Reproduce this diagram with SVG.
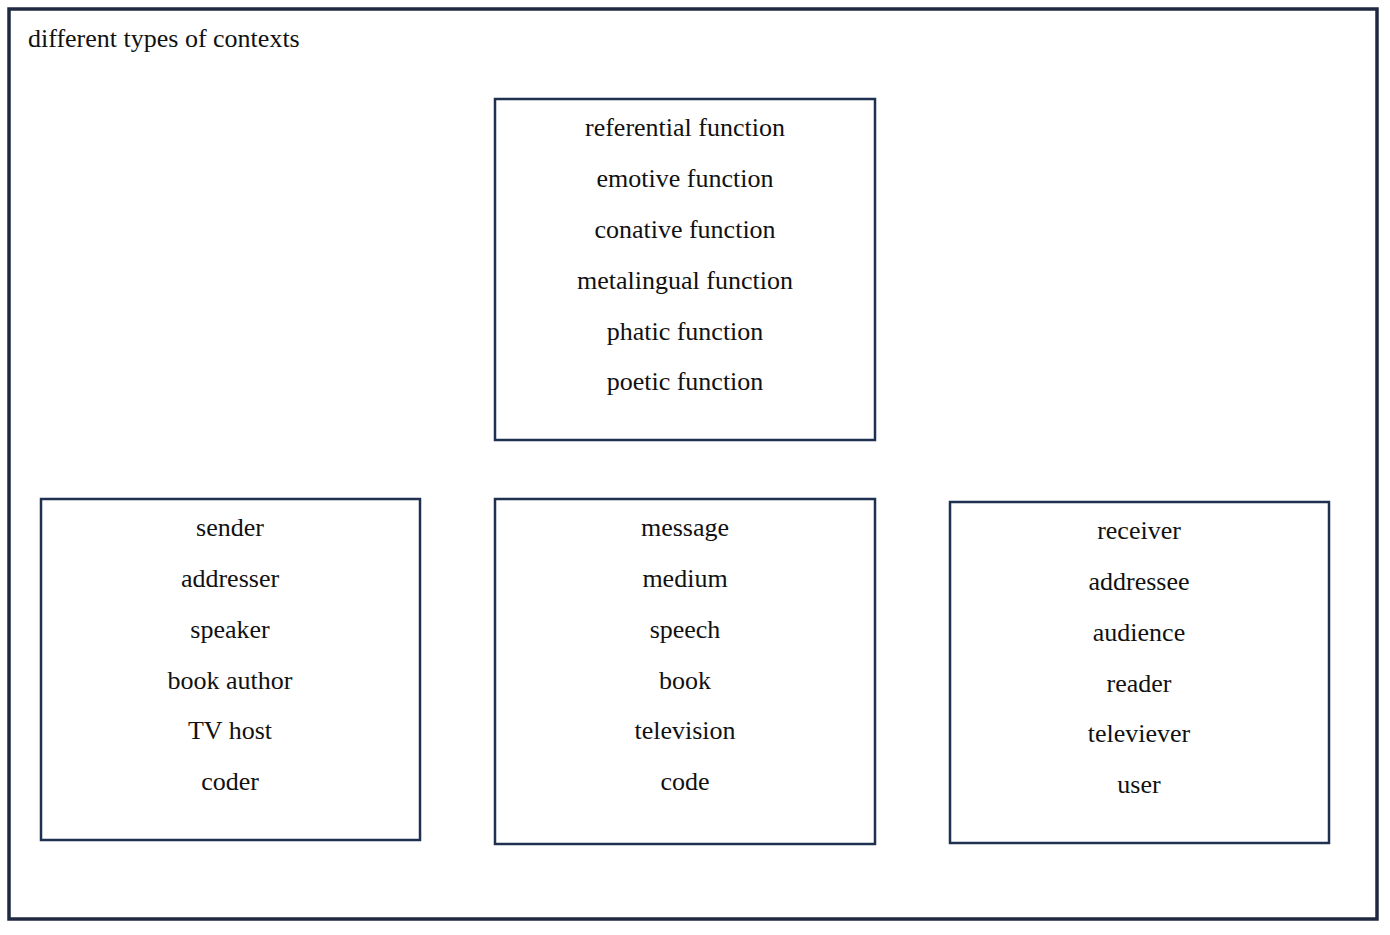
<svg xmlns="http://www.w3.org/2000/svg" width="1390" height="935" viewBox="0 0 1390 935">
<style>
.b{fill:#fff;stroke:#1f3050;stroke-width:2.5}
text{font-family:"Liberation Serif",serif;font-size:26px;fill:#111}
.c{text-anchor:middle}
</style>
<rect width="1390" height="935" fill="#fff"/>
<rect x="9" y="9" width="1368" height="910" fill="none" stroke="#1f2a40" stroke-width="3.5"/>
<text x="28" y="47">different types of contexts</text>
<g id="functions"><rect class="b" x="495" y="99" width="380" height="341"/>
<text class="c" x="685" y="136">referential function</text>
<text class="c" x="685" y="187">emotive function</text>
<text class="c" x="685" y="238">conative function</text>
<text class="c" x="685" y="289">metalingual function</text>
<text class="c" x="685" y="340">phatic function</text>
<text class="c" x="685" y="390">poetic function</text></g>
<g id="sender"><rect class="b" x="41" y="499" width="379" height="341"/>
<text class="c" x="230" y="536">sender</text>
<text class="c" x="230" y="587">addresser</text>
<text class="c" x="230" y="638">speaker</text>
<text class="c" x="230" y="689">book author</text>
<text class="c" x="230" y="739">TV host</text>
<text class="c" x="230" y="790">coder</text></g>
<g id="message"><rect class="b" x="495" y="499" width="380" height="345"/>
<text class="c" x="685" y="536">message</text>
<text class="c" x="685" y="587">medium</text>
<text class="c" x="685" y="638">speech</text>
<text class="c" x="685" y="689">book</text>
<text class="c" x="685" y="739">television</text>
<text class="c" x="685" y="790">code</text></g>
<g id="receiver"><rect class="b" x="950" y="502" width="379" height="341"/>
<text class="c" x="1139" y="539">receiver</text>
<text class="c" x="1139" y="590">addressee</text>
<text class="c" x="1139" y="641">audience</text>
<text class="c" x="1139" y="692">reader</text>
<text class="c" x="1139" y="742">televiever</text>
<text class="c" x="1139" y="793">user</text></g>
<g id="connectors"></g>
</svg>
